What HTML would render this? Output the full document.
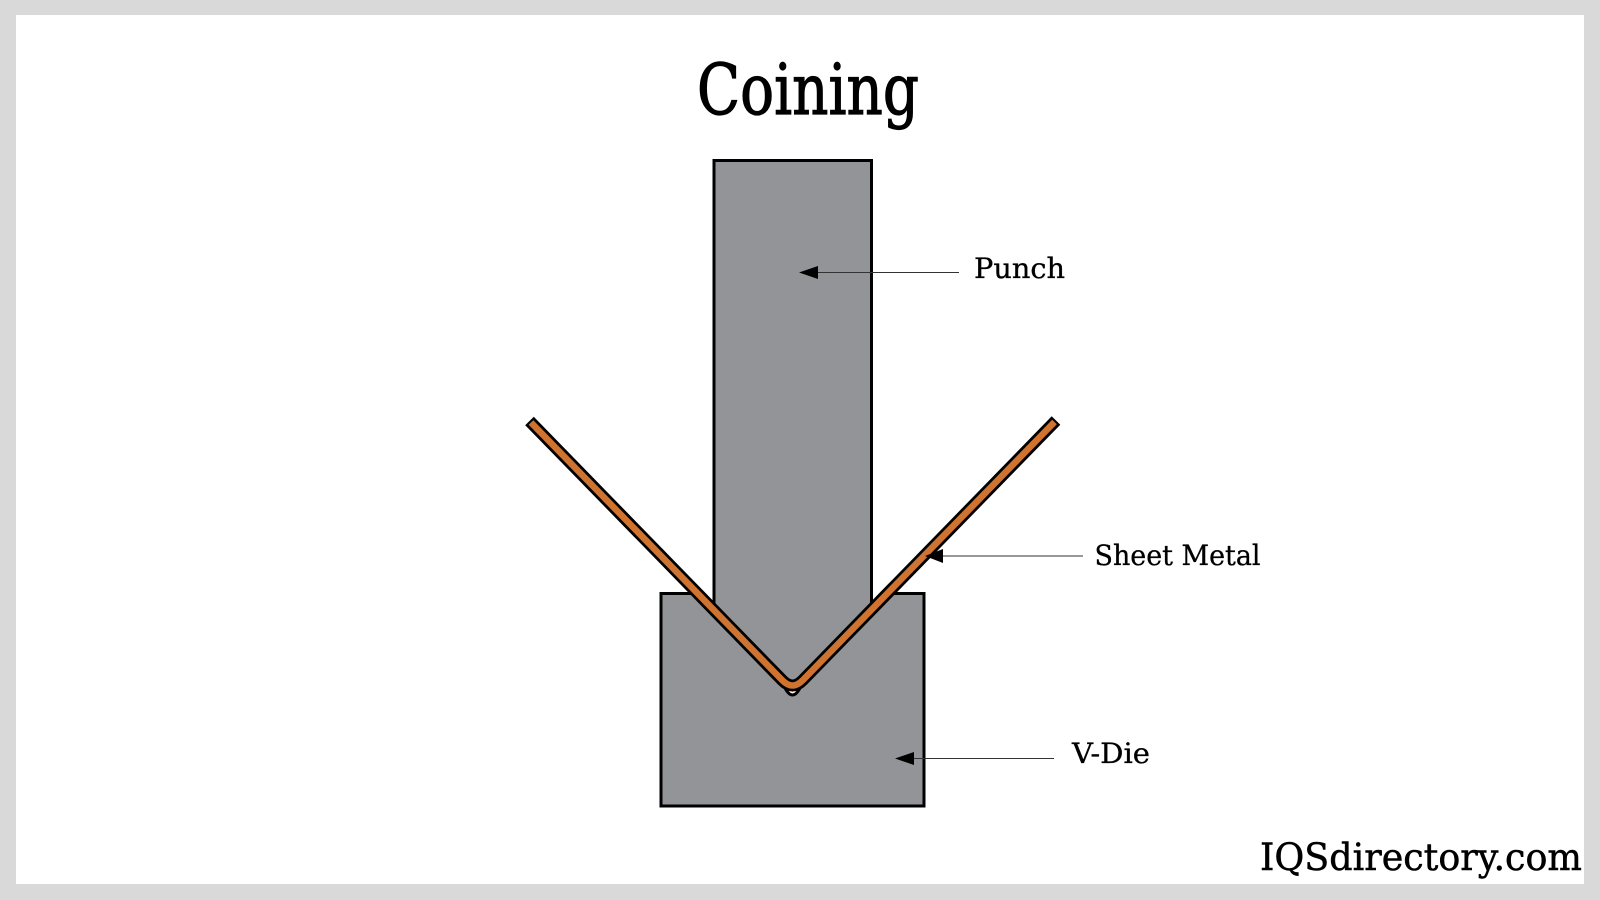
<!DOCTYPE html>
<html>
<head>
<meta charset="utf-8">
<style>
html,body{margin:0;padding:0;width:1600px;height:900px;overflow:hidden;background:#d9d9d9}
svg{display:block}
text{font-family:"DejaVu Serif","Liberation Serif",serif;fill:#000;stroke:#000}
</style>
</head>
<body>
<svg width="1600" height="900" viewBox="0 0 1600 900" xmlns="http://www.w3.org/2000/svg">
<rect x="0" y="0" width="1600" height="900" fill="#d9d9d9"/>
<rect x="16" y="15" width="1568" height="869" fill="#ffffff"/>

<text x="697" y="114" font-size="70" textLength="222" lengthAdjust="spacingAndGlyphs" stroke-width="1.200">Coining</text>

<path d="M661 593.500H700L785 688Q792.500 702 800 688L885 593.500H924V806H661Z" fill="#929497" stroke="#000" stroke-width="3" stroke-linejoin="miter"/>
<path d="M714 160.500H871.500V612L792.500 692L714 612Z" fill="#929497"/>
<path d="M714 612V160.500H871.500V612" fill="none" stroke="#000" stroke-width="3"/>

<path d="M529.500 421L782 680Q792.500 691 803 680L1056 420.500" fill="none" stroke="#000" stroke-width="12" stroke-linejoin="round"/>
<path d="M531 422.500L782 680Q792.500 691 803 680L1054.500 422" fill="none" stroke="#cf7430" stroke-width="6.500" stroke-linejoin="round"/>

<line x1="815" y1="272.500" x2="959" y2="272.500" stroke="#333" stroke-width="1"/>
<polygon points="799,272.500 818,266 818,279" fill="#000"/>
<line x1="940" y1="556" x2="1083" y2="556" stroke="#333" stroke-width="1"/>
<polygon points="925,556 943,549 943,563" fill="#000"/>
<line x1="910" y1="758.500" x2="1054" y2="758.500" stroke="#333" stroke-width="1"/>
<polygon points="895,758.500 914,752 914,765" fill="#000"/>

<text x="974" y="278" font-size="28" textLength="91" lengthAdjust="spacingAndGlyphs" stroke-width="0.300">Punch</text>
<text x="1094.500" y="565" font-size="28" textLength="166" lengthAdjust="spacingAndGlyphs" stroke-width="0.300">Sheet Metal</text>
<text x="1072" y="763" font-size="28" textLength="78" lengthAdjust="spacingAndGlyphs" stroke-width="0.300">V-Die</text>
<text x="1260" y="870" font-size="37" textLength="322" lengthAdjust="spacingAndGlyphs" stroke-width="0.500">IQSdirectory.com</text>
</svg>
</body>
</html>
